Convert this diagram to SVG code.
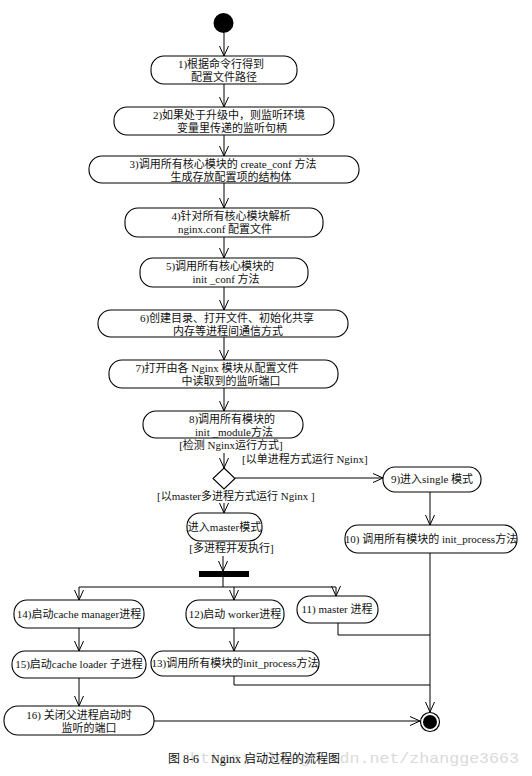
<svg xmlns="http://www.w3.org/2000/svg" width="532" height="776" viewBox="0 0 532 776">
<defs>
<marker id="a" viewBox="-1 -6 12 12" refX="10" refY="0" markerWidth="12" markerHeight="12" orient="auto" markerUnits="userSpaceOnUse"><path d="M0,-4.5 L10,0 L0,4.5" fill="none" stroke="#000" stroke-width="1"/></marker>
<style>
.n{fill:#fff;stroke:#000;stroke-width:1.1}
.t{font-family:"Liberation Serif","Noto Sans CJK SC",serif;font-size:11px;fill:#111;text-anchor:middle}
.l{font-family:"Liberation Serif","Noto Sans CJK SC",serif;font-size:11px;fill:#111}
.c path{fill:none;stroke:#000;stroke-width:1}
.ar{marker-end:url(#a)}
</style>
</defs>
<rect width="532" height="776" fill="#fff"/>
<g class="c" id="connectors">
<path class="ar" d="M224,33 V56"/>
<path class="ar" d="M224,84 V107"/>
<path class="ar" d="M224,135 V156"/>
<path class="ar" d="M224,183 V208"/>
<path class="ar" d="M224,237 V258"/>
<path class="ar" d="M224,287 V310"/>
<path class="ar" d="M224,337 V360"/>
<path class="ar" d="M224,388 V411"/>
<path class="ar" d="M224,453 V468"/>
<path class="ar" d="M235,478 H383"/>
<path class="ar" d="M224,503 V513"/>
<path class="ar" d="M430,492 V525"/>
<path class="ar" d="M223,556 V571"/>
<path d="M223,577 V587 M79,587 H336"/>
<path class="ar" d="M79,587 V600"/>
<path class="ar" d="M234,587 V600"/>
<path class="ar" d="M336,587 V596"/>
<path class="ar" d="M79,628 V651"/>
<path class="ar" d="M234,628 V651"/>
<path d="M338,623 V635 H430"/>
<path d="M234,676 V685 H430"/>
<path class="ar" d="M430,553 V712"/>
<path class="ar" d="M79,678 V706"/>
<path class="ar" d="M154,721 H420"/>
</g>
<g id="start"><circle cx="223.5" cy="23" r="10" fill="#000"/></g>
<g id="n1"><rect class="n" x="151" y="56" width="146" height="28" rx="13"/><text class="t" x="221" y="68">1)根据命令行得到</text><text class="t" x="224" y="81">配置文件路径</text></g>
<g id="n2"><rect class="n" x="114" y="107" width="220" height="28" rx="13"/><text class="t" x="229" y="119">2)如果处于升级中，则监听环境</text><text class="t" x="232" y="132">变量里传递的监听句柄</text></g>
<g id="n3"><rect class="n" x="89" y="156" width="270" height="27" rx="13"/><text class="t" x="223" y="168">3)调用所有核心模块的 create_conf 方法</text><text class="t" x="231" y="181">生成存放配置项的结构体</text></g>
<g id="n4"><rect class="n" x="125" y="208" width="198" height="29" rx="13"/><text class="t" x="231" y="220">4)针对所有核心模块解析</text><text class="t" x="225" y="233">nginx.conf 配置文件</text></g>
<g id="n5"><rect class="n" x="140" y="258" width="168" height="29" rx="13"/><text class="t" x="220" y="270">5)调用所有核心模块的</text><text class="t" x="226" y="283">init _conf 方法</text></g>
<g id="n6"><rect class="n" x="98" y="310" width="250" height="27" rx="13"/><text class="t" x="227" y="322">6)创建目录、打开文件、初始化共享</text><text class="t" x="228" y="335">内存等进程间通信方式</text></g>
<g id="n7"><rect class="n" x="109" y="360" width="229" height="28" rx="13"/><text class="t" x="217" y="372">7)打开由各 Nginx 模块从配置文件</text><text class="t" x="231" y="385">中读取到的监听端口</text></g>
<g id="n8"><rect class="n" x="143" y="411" width="160" height="27" rx="13"/><text class="t" x="232" y="423">8)调用所有模块的</text><text class="t" x="234" y="436">init _module方法</text></g>
<g id="decision"><path class="n" d="M224,468 L235,478.5 L224,489 L213,478.5 Z"/></g>
<g id="labels">
<text class="t" x="231" y="449">[检测 Nginx运行方式]</text>
<text class="l" x="242" y="463">[以单进程方式运行 Nginx]</text>
<text class="l" x="157" y="500">[以master多进程方式运行 Nginx ]</text>
<text class="t" x="231.5" y="552">[多进程并发执行]</text>
</g>
<g id="n9"><rect class="n" x="383" y="467" width="98" height="25" rx="12"/><text class="t" x="432" y="483">9)进入single 模式</text></g>
<g id="master"><rect class="n" x="187" y="513" width="75" height="28" rx="13"/><text class="t" x="224.5" y="531">进入master模式</text></g>
<g id="n10"><rect class="n" x="345" y="525" width="172" height="28" rx="13"/><text class="t" x="431" y="543">10) 调用所有模块的 init_process方法</text></g>
<g id="bar"><rect x="199" y="571" width="50" height="6" fill="#000"/></g>
<g id="n14"><rect class="n" x="14" y="600" width="130" height="28" rx="13"/><text class="t" x="79" y="618">14)启动cache manager进程</text></g>
<g id="n12"><rect class="n" x="186" y="600" width="98" height="28" rx="13"/><text class="t" x="235" y="618">12)启动 worker进程</text></g>
<g id="n11"><rect class="n" x="297" y="596" width="81" height="27" rx="13"/><text class="t" x="337" y="613">11) master 进程</text></g>
<g id="n15"><rect class="n" x="12" y="651" width="134" height="27" rx="13"/><text class="t" x="79" y="668">15)启动cache loader 子进程</text></g>
<g id="n13"><rect class="n" x="151" y="651" width="168" height="25" rx="12"/><text class="t" x="235" y="667">13)调用所有模块的init_process方法</text></g>
<g id="n16"><rect class="n" x="4" y="706" width="150" height="29" rx="14"/><text class="t" x="79" y="719">16) 关闭父进程启动时</text><text class="t" x="89" y="732">监听的端口</text></g>
<g id="end"><circle cx="430" cy="722" r="9.5" fill="#fff" stroke="#000" stroke-width="1.2"/><circle cx="430" cy="722" r="7" fill="#000"/></g>
<text x="190" y="763" font-family="Liberation Mono, monospace" font-size="15" fill="#dadada" textLength="329" lengthAdjust="spacingAndGlyphs">https://blog.csdn.net/zhangge3663</text>
<text class="l" x="168" y="763" font-size="12" xml:space="preserve" style="white-space:pre;font-size:12px">图 8-6    Nginx 启动过程的流程图</text>
</svg>
